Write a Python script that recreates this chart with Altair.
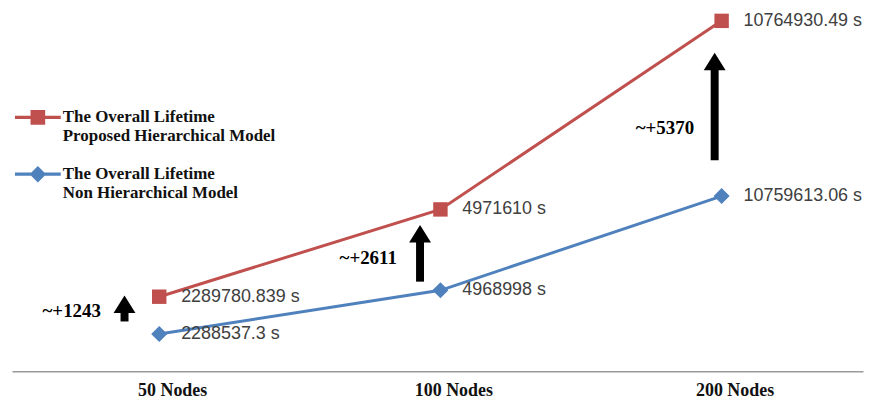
import altair as alt
import pandas as pd

# ---- data ----
nodes = [50, 100, 200]
proposed = [2289780.839, 4971610, 10764930.49]
non_hier = [2288537.3, 4968998, 10759613.06]
series_names = [
    "The Overall Lifetime\nProposed Hierarchical Model",
    "The Overall Lifetime\nNon Hierarchical Model",
]
# annotation arrows (x in nodes, y in units of the proposed-model axis)
gap_labels = ["~+1243", "~+2611", "~+5370"]
arrow_x = [45.9, 95.1, 196.6]
arrow_tip = [2324200, 4495600, 9786200]
arrow_base = [1529100, 2752400, 6483400]
gap_label_x = [40.3, 83.7, 173.9]
gap_label_y = [1834900, 3486300, 7462000]

RED = "#C0504D"
BLUE = "#4F81BD"

red_df = pd.DataFrame({"nodes": nodes, "value": proposed, "series": series_names[0]})
blue_df = pd.DataFrame({"nodes": nodes, "value": non_hier, "series": series_names[1]})
arrow_df = pd.DataFrame({"ax": arrow_x, "tip": arrow_tip, "base": arrow_base,
                         "tx": gap_label_x, "ty": gap_label_y, "label": gap_labels})
legend_df = pd.DataFrame({"series": series_names})

x_scale = alt.Scale(type="log", domain=[34.78, 283.4], nice=False)
x_enc = alt.X(
    "nodes:Q", scale=x_scale, title=None,
    axis=alt.Axis(values=nodes, labelExpr="datum.value + ' Nodes'", ticks=False, grid=False,
                  domainColor="#9a9a9a", domainWidth=1.5, labelFont="Liberation Serif",
                  labelFontWeight="bold", labelFontSize=18, labelColor="#111111",
                  labelPadding=10, labelOffset=13),
)
red_scale = alt.Scale(domain=[0, 11131900], nice=False, zero=True)
blue_scale = alt.Scale(domain=[0, 22252800], nice=False, zero=True)


def series_layers(df, scale, color, shape, size):
    base = alt.Chart(df).encode(x=x_enc, y=alt.Y("value:Q", scale=scale, axis=None))
    line = base.mark_line(color=color, strokeWidth=3)
    pts = base.mark_point(shape=shape, filled=True, color=color, size=size, opacity=1)
    txt = base.transform_calculate(lab="toString(datum.value) + ' s'").mark_text(
        align="left", baseline="middle", dx=22, font="Liberation Sans", fontSize=18,
        color="#404040").encode(text="lab:N")
    return [line, pts, txt]


red_layers = series_layers(red_df, red_scale, RED, "square", 210)
blue_layers = series_layers(blue_df, blue_scale, BLUE, "diamond", 260)

arr_base = alt.Chart(arrow_df)
shaft = arr_base.mark_rule(color="black", strokeWidth=8, strokeCap="butt", yOffset=14).encode(
    x=alt.X("ax:Q", scale=x_scale),
    y=alt.Y("tip:Q", scale=red_scale, axis=None),
    y2="base:Q",
)
head = arr_base.mark_point(shape="M0,0L1,1.6H-1Z", filled=True, color="black", size=484,
                           opacity=1).encode(
    x=alt.X("ax:Q", scale=x_scale),
    y=alt.Y("tip:Q", scale=red_scale, axis=None),
)
gap_txt = arr_base.mark_text(font="Liberation Serif", fontWeight="bold", fontSize=19,
                             color="black", align="center", baseline="middle").encode(
    x=alt.X("tx:Q", scale=x_scale),
    y=alt.Y("ty:Q", scale=red_scale, axis=None),
    text="label:N",
)

legend_layer = alt.Chart(legend_df).transform_filter("false").mark_point(
    filled=True, opacity=1).encode(
    color=alt.Color("series:N", scale=alt.Scale(domain=series_names, range=[RED, BLUE]),
                    legend=alt.Legend(title=None, orient="none", legendX=3, legendY=86,
                                      labelExpr="split(datum.label, '\\n')",
                                      labelFont="Liberation Serif", labelFontWeight="bold",
                                      labelFontSize=17, labelColor="#111111", labelLimit=500,
                                      labelOffset=2, symbolSize=2116, symbolStrokeWidth=0,
                                      rowPadding=7, padding=0)),
    shape=alt.Shape("series:N", scale=alt.Scale(
        domain=series_names,
        range=["M-1,-0.07H1V0.07H-1Z M-0.32,-0.32H0.32V0.32H-0.32Z",
               "M-1,-0.07H1V0.07H-1Z M0,-0.36L0.36,0L0,0.36L-0.36,0Z"])),
)

chart = alt.layer(
    *red_layers, *blue_layers, shaft, head, gap_txt, legend_layer
).resolve_scale(y="independent").properties(
    width=855, height=364,
    background="white",
    autosize=alt.AutoSizeParams(type="none"),
    padding={"left": 4, "top": 0, "right": 4, "bottom": 30},
).configure_view(stroke=None, strokeWidth=0)

chart.save("out.html", embed_options={"renderer": "svg", "actions": False})
